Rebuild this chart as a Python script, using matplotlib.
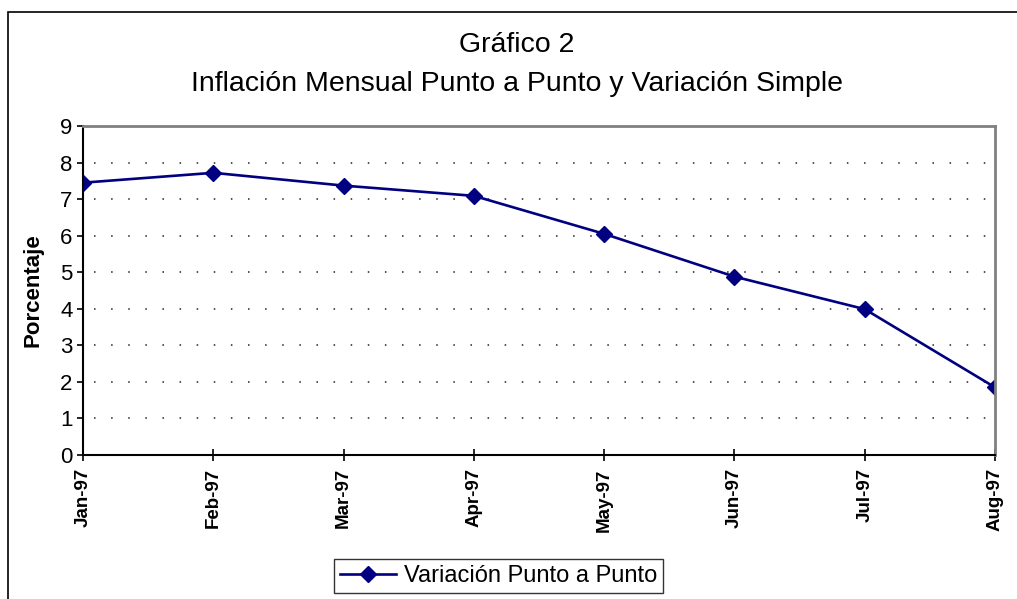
import matplotlib
matplotlib.use('Agg')
import matplotlib.pyplot as plt
from matplotlib.patches import Rectangle

plt.rcParams['font.family'] = ['Liberation Sans', 'DejaVu Sans']

months = ['Jan-97', 'Feb-97', 'Mar-97', 'Apr-97', 'May-97', 'Jun-97', 'Jul-97', 'Aug-97']
variacion = [7.45, 7.72, 7.37, 7.09, 6.05, 4.88, 3.99, 1.85]
serie_label = 'Variación Punto a Punto'

fig = plt.figure(figsize=(10.17, 5.99), dpi=100)
ax = fig.add_axes([0.0816, 0.2404, 0.8968, 0.5492])

x = list(range(len(months)))
ax.plot(x, variacion, color='#000080', lw=1.9, marker='D', markersize=8,
        markerfacecolor='#000080', markeredgecolor='#000080', label=serie_label)

ax.set_xlim(0, len(months) - 1)
ax.set_ylim(0, 9)
ax.set_yticks(range(10))
ax.set_xticks(x)
ax.set_xticklabels(months, rotation=90, fontweight='bold', fontsize=13.5)
ax.tick_params(axis='y', labelsize=16, direction='out', length=4.5, width=1.2, pad=3)
ax.tick_params(axis='x', direction='inout', length=9, width=1.2, pad=5)

# dotted grid lines (not at 0 or 9)
for yv in range(1, 9):
    ax.axhline(yv, color='#222222', lw=1.1, linestyle=(4, (1, 10.2)), zorder=0)

for s in ['left', 'bottom']:
    ax.spines[s].set_color('black')
    ax.spines[s].set_linewidth(1.5)
for s in ['top', 'right']:
    ax.spines[s].set_color('#808080')
    ax.spines[s].set_linewidth(2)

ax.set_ylabel('Porcentaje', fontsize=16, fontweight='bold', labelpad=12)

fig.text(0.508, 0.925, 'Gráfico 2', ha='center', va='center', fontsize=20.5)
fig.text(0.508, 0.86, 'Inflación Mensual Punto a Punto y Variación Simple',
         ha='center', va='center', fontsize=20.5)

leg = fig.legend(loc='center', bbox_to_anchor=(0.49, 0.038), fontsize=17,
                 frameon=True, fancybox=False, edgecolor='black',
                 handlelength=2.4, borderpad=0.25, handletextpad=0.3)
leg.get_frame().set_linewidth(1.0)

# outer chart border
border = Rectangle((8 / 1017, -0.2), 1.2, 0.98 + 0.2, transform=fig.transFigure,
                   fill=False, edgecolor='black', lw=1.2, clip_on=False)
fig.patches.append(border)

fig.savefig('out.png', dpi=100)
